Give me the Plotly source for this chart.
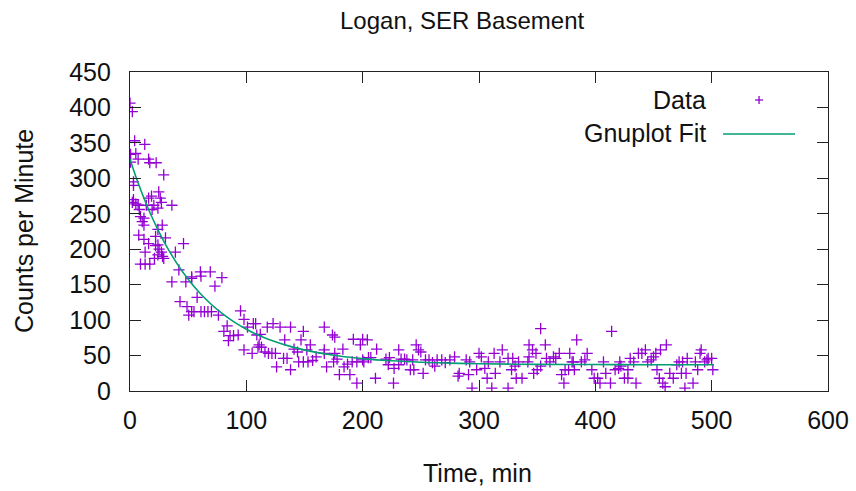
import plotly.graph_objects as go

time_min = [0, 0.5, 0.5, 2, 2, 3, 3, 3, 4, 5, 5, 7, 7, 7.5, 8, 9, 9, 10.5, 12, 12, 12, 12.7, 13, 13, 14,
            16, 16, 16, 17, 17, 18.5, 19, 20.5, 21, 22, 22, 22.5, 24, 24, 24, 24, 24.7, 25, 26, 27, 27,
            27.7, 28, 29, 29, 30.5, 36, 36, 39, 42, 43, 46, 48, 49, 50.5, 53, 53, 53, 55, 57.7, 60.5,
            61, 61, 64, 67, 69, 70, 73, 76, 79, 80.7, 83.5, 84.6, 86, 89, 93, 95, 98, 98, 101, 105,
            106, 108, 109, 110, 111, 112, 113, 116, 118, 119, 122, 123, 125, 126, 129, 132, 133, 135,
            138, 138, 141, 144, 145, 147, 149, 149, 152, 153, 155, 157, 160, 167, 167, 167, 169, 174,
            175, 176, 176, 178, 180, 183, 184, 187, 189, 191, 192, 195, 195, 198, 200, 200, 201, 204,
            205, 207, 211, 212, 220, 222, 223, 226.5, 227, 231, 231, 233, 236, 238, 241, 243, 244, 246,
            248, 250, 252, 254, 257, 260, 262, 264, 268, 271, 275, 279, 282, 283, 289, 291, 292, 294,
            298, 300, 302, 305, 307, 308, 311, 313, 314, 318, 320, 325, 325, 328, 329, 331, 332, 334,
            337, 342, 343, 343, 346, 347, 349, 350, 353, 353, 357, 358, 361, 364, 366, 369, 371, 373,
            374, 377, 378, 380, 381, 382, 384, 388, 391, 393, 397, 399, 402, 404, 407, 409, 413, 414,
            417, 420, 421, 422, 425, 428, 428, 430, 433, 435, 437, 440, 443, 445, 448, 450, 452, 453,
            455, 456, 458, 460, 461, 464, 467, 470, 472, 474, 475, 477, 478, 479, 484, 486, 488, 490,
            491, 494, 496, 497, 500, 501]
counts = [406, 334, 323, 394, 266, 295, 290, 270, 353, 335, 264, 327, 262, 220, 256, 246, 179, 239, 244, 234, 214, 348, 196, 179, 262,
          327, 272, 208, 322, 179, 275, 256, 262, 187, 218, 205, 322, 258, 228, 206, 192, 281, 200, 272, 266, 196,
          234, 190, 305, 187, 216, 262, 154, 196, 171, 126, 208, 154, 119, 107, 161, 159, 112, 112, 132, 168,
          112, 162, 112, 112, 168, 112, 148, 107, 160, 84, 92, 71, 78, 78, 79, 113, 101, 58, 90, 53,
          95, 95, 79, 62, 65, 80, 62, 55, 90, 53, 53, 95, 53, 34, 90, 46, 72, 46,
          90, 30, 59, 55, 41, 72, 84, 41, 58, 41, 65, 43, 48, 90, 58, 53, 34, 79,
          41, 76, 53, 45, 23, 59, 34, 38, 23, 41, 73, 41, 11, 65, 73, 44, 41, 72,
          47, 47, 18, 59, 45, 37, 47, 11, 32, 58, 37, 45, 45, 44, 30, 44, 30, 65,
          58, 55, 25, 44, 44, 40, 35, 44, 44, 40, 44, 48, 21, 25, 44, 23, 41, 4,
          30, 53, 48, 32, 18, 41, 4, 53, 25, 41, 58, 46, 4, 30, 46, 35, 18, 41,
          18, 41, 65, 48, 58, 25, 53, 30, 88, 35, 65, 46, 41, 48, 46, 53, 23, 11,
          30, 30, 53, 41, 41, 30, 72, 41, 44, 53, 30, 18, 18, 11, 41, 25, 11, 84,
          30, 32, 41, 35, 18, 18, 30, 46, 41, 11, 53, 53, 58, 41, 44, 48, 53, 30,
          18, 58, 11, 6, 65, 25, 18, 37, 41, 25, 41, 4, 25, 46, 11, 41, 30, 53,
          58, 41, 44, 46, 46, 30]

fit_time = [0, 5, 10, 15, 20, 25, 30, 40, 50, 60, 70, 80, 90, 100, 110, 120, 140, 160, 180, 200,
            225, 250, 275, 300, 350, 400, 450, 502]
fit_counts = [327, 302.6, 280.4, 260, 241.2, 224, 208.4, 180.8, 157.6, 138.2, 122, 108.3, 96.8, 87.2, 79,
              72.4, 61.9, 54.5, 49.3, 45.7, 42.6, 40.6, 39.3, 38.5, 37.6, 37.3, 37.1, 37]

x_ticks = [0, 100, 200, 300, 400, 500, 600]
y_ticks = [0, 50, 100, 150, 200, 250, 300, 350, 400, 450]

PURPLE = "#9400d3"
GREEN = "#009e73"
FONT = "Liberation Sans, Arial, sans-serif"

fig = go.Figure()
fig.add_trace(go.Scatter(
    x=time_min, y=counts, mode="markers", name="Data",
    marker=dict(symbol="cross-thin", size=8, color=PURPLE, line=dict(color=PURPLE, width=1.3)),
    showlegend=False,
))
fig.add_trace(go.Scatter(
    x=fit_time, y=fit_counts, mode="lines", name="Gnuplot Fit", line_shape="spline",
    line=dict(color=GREEN, width=1.6), showlegend=False,
))

L, R, T, B = 129.5, 828, 72, 391
W, H = 856, 491
pw, ph = R - L, B - T


def px(xp):
    return (xp - L) / pw


def py(yp):
    return (B - yp) / ph


axis_common = dict(
    showline=True, linecolor="#222222", linewidth=1.3, mirror="allticks",
    ticks="inside", ticklen=11, tickwidth=1.3, tickcolor="#222222",
    showgrid=False, zeroline=False, automargin=False,
    tickfont=dict(family=FONT, size=25, color="#111111"),
)

fig.update_layout(
    width=W, height=H,
    margin=dict(l=L, r=W - R, t=T, b=H - B, pad=0),
    plot_bgcolor="white", paper_bgcolor="white",
    xaxis=dict(range=[0, 600], tickvals=x_ticks, ticktext=[str(v) for v in x_ticks],
               ticklabelstandoff=7, **axis_common),
    yaxis=dict(range=[0, 450], tickvals=y_ticks, ticktext=[str(v) for v in y_ticks],
               ticklabelstandoff=13, **axis_common),
    showlegend=False,
)


def label(text, x, y, xanchor="center", size=25, angle=0):
    fig.add_annotation(text=text, xref="paper", yref="paper", x=px(x), y=py(y),
                       xanchor=xanchor, yanchor="middle", showarrow=False, textangle=angle,
                       font=dict(family=FONT, size=size, color="#111111"))


label("Logan, SER Basement", 462, 21, size=24)
label("Time, min", 477, 473)
label("Counts per Minute", 23, 231.5, angle=-90)

# legend (gnuplot style: text right-aligned, key sample on the right)
label("Data", 708, 100, xanchor="right")
label("Gnuplot Fit", 708, 133, xanchor="right")
cx, cy, hs = 759, 100, 4
fig.add_shape(type="line", xref="paper", yref="paper", x0=px(cx - hs), x1=px(cx + hs),
              y0=py(cy), y1=py(cy), line=dict(color=PURPLE, width=1.3))
fig.add_shape(type="line", xref="paper", yref="paper", x0=px(cx), x1=px(cx),
              y0=py(cy - hs), y1=py(cy + hs), line=dict(color=PURPLE, width=1.3))
fig.add_shape(type="line", xref="paper", yref="paper", x0=px(723), x1=px(795),
              y0=py(134), y1=py(134), line=dict(color=GREEN, width=1.6))

fig.write_html("out.html", config={"displayModeBar": False},
               post_script="document.body.style.margin='0';")
